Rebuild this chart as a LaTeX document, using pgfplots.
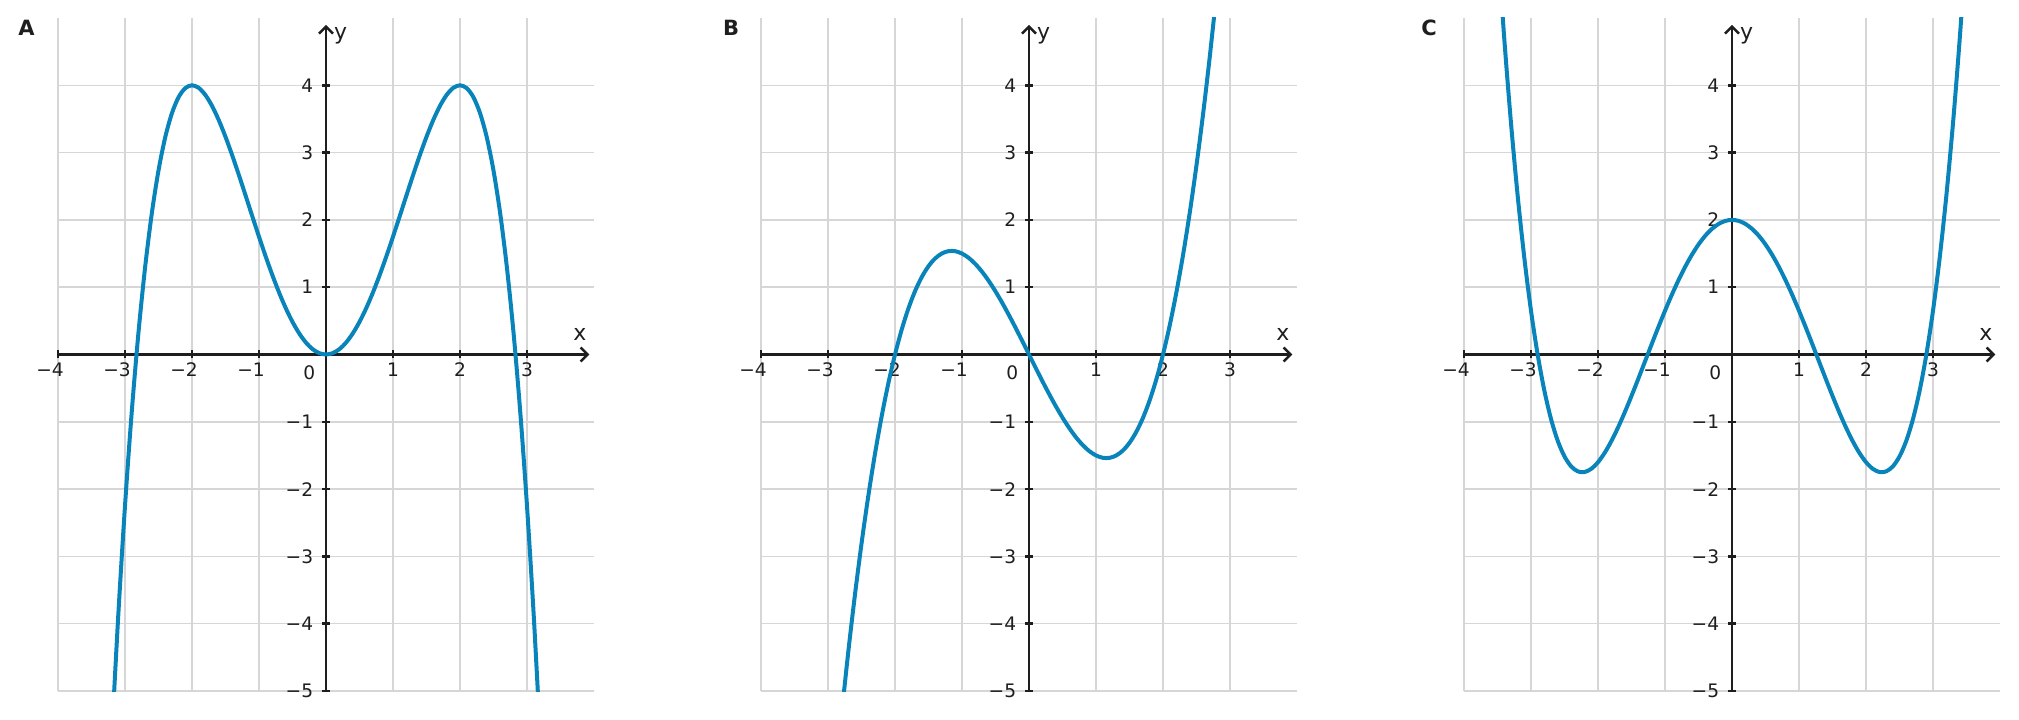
\documentclass[border=0pt]{standalone}
\usepackage{fontspec}
\setmainfont{DejaVu Sans}
\usepackage{pgfplots}
\pgfplotsset{compat=1.18}
\usetikzlibrary{arrows.meta}
\definecolor{curve}{RGB}{8,132,186}
\definecolor{axcol}{RGB}{30,30,30}
\definecolor{gridcol}{RGB}{214,214,214}
\newcommand{\tlfont}{\fontsize{9.3}{11}\selectfont}
\newcommand{\neglab}[1]{#1\kern8pt\null}
\pgfplotsset{
  panel/.style={
    width=268pt, height=336.5pt, scale only axis,
    xmin=-4, xmax=4, ymin=-5, ymax=5,
    axis lines=middle,
    x axis line style={draw=axcol, line width=1.25pt, -{Straight Barb[length=3.5pt,width=7pt]}, shorten >=2.3pt},
    y axis line style={draw=axcol, line width=1.25pt, -{Straight Barb[length=3.5pt,width=7pt]}, shorten >=3.4pt},
    xtick={-4,...,3}, ytick={-5,...,4},
    xticklabels={\neglab{−4},\neglab{−3},\neglab{−2},\neglab{−1},,1,2,3},
    yticklabels={−5,−4,−3,−2,−1,,1,2,3,4},
    tick align=center, major tick length=4pt,
    tick style={draw=axcol, line width=1.25pt},
    grid=major, grid style={draw=gridcol, line width=0.75pt},
    xticklabel style={font=\tlfont, text=axcol, inner sep=0pt, anchor=north, yshift=-2pt},
    yticklabel style={font=\tlfont, text=axcol, inner sep=0pt, anchor=east, xshift=-4.25pt},
  },
  fn/.style={draw=curve, line width=2pt, smooth, mark=none},
}
\begin{document}
\begin{tikzpicture}
\path[use as bounding box] (0,0) rectangle (1009.5pt,359.5pt);
% Panel A
\begin{axis}[panel, at={(29pt,14pt)}, anchor=south west]
\addplot[fn] coordinates {(-3.2,-5.7344) (-3.1,-3.8680) (-3.0,-2.25) (-2.9,-0.8620) (-2.8,0.3136) (-2.7,1.2940) (-2.6,2.0956) (-2.5,2.7344) (-2.4,3.2256) (-2.3,3.5840) (-2.2,3.8236) (-2.1,3.9580) (-2.0,4) (-1.9,3.9620) (-1.8,3.8556) (-1.7,3.6920) (-1.6,3.4816) (-1.5,3.2344) (-1.4,2.9596) (-1.3,2.6660) (-1.2,2.3616) (-1.1,2.0540) (-1.0,1.75) (-0.9,1.4560) (-0.8,1.1776) (-0.7,0.9200) (-0.6,0.6876) (-0.5,0.4844) (-0.4,0.3136) (-0.3,0.1780) (-0.2,0.0796) (-0.1,0.0200) (0,0) (0.1,0.0200) (0.2,0.0796) (0.3,0.1780) (0.4,0.3136) (0.5,0.4844) (0.6,0.6876) (0.7,0.9200) (0.8,1.1776) (0.9,1.4560) (1.0,1.75) (1.1,2.0540) (1.2,2.3616) (1.3,2.6660) (1.4,2.9596) (1.5,3.2344) (1.6,3.4816) (1.7,3.6920) (1.8,3.8556) (1.9,3.9620) (2.0,4) (2.1,3.9580) (2.2,3.8236) (2.3,3.5840) (2.4,3.2256) (2.5,2.7344) (2.6,2.0956) (2.7,1.2940) (2.8,0.3136) (2.9,-0.8620) (3.0,-2.25) (3.1,-3.8680) (3.2,-5.7344)};
\node[font=\fontsize{11}{13}\selectfont, text=axcol] at (axis cs:3.79,0.29) {x};
\node[font=\fontsize{11}{13}\selectfont, text=axcol] at (axis cs:0.22,4.73) {y};
\node[font=\tlfont, text=axcol, anchor=north, inner sep=0pt, yshift=-5.5pt] at (axis cs:-0.25,0) {0};
\end{axis}
% Panel B
\begin{axis}[panel, at={(380.5pt,14pt)}, anchor=south west]
\addplot[fn] coordinates {(-2.8,-5.376) (-2.7,-4.4415) (-2.6,-3.588) (-2.5,-2.8125) (-2.4,-2.112) (-2.3,-1.4835) (-2.2,-0.924) (-2.1,-0.4305) (-2.0,0) (-1.9,0.3705) (-1.8,0.684) (-1.7,0.9435) (-1.6,1.152) (-1.5,1.3125) (-1.4,1.428) (-1.3,1.5015) (-1.2,1.536) (-1.1,1.5345) (-1.0,1.5) (-0.9,1.4355) (-0.8,1.344) (-0.7,1.2285) (-0.6,1.092) (-0.5,0.9375) (-0.4,0.768) (-0.3,0.5865) (-0.2,0.396) (-0.1,0.1995) (0,0) (0.1,-0.1995) (0.2,-0.396) (0.3,-0.5865) (0.4,-0.768) (0.5,-0.9375) (0.6,-1.092) (0.7,-1.2285) (0.8,-1.344) (0.9,-1.4355) (1.0,-1.5) (1.1,-1.5345) (1.2,-1.536) (1.3,-1.5015) (1.4,-1.428) (1.5,-1.3125) (1.6,-1.152) (1.7,-0.9435) (1.8,-0.684) (1.9,-0.3705) (2.0,0) (2.1,0.4305) (2.2,0.924) (2.3,1.4835) (2.4,2.112) (2.5,2.8125) (2.6,3.588) (2.7,4.4415) (2.8,5.376)};
\node[font=\fontsize{11}{13}\selectfont, text=axcol] at (axis cs:3.79,0.29) {x};
\node[font=\fontsize{11}{13}\selectfont, text=axcol] at (axis cs:0.22,4.73) {y};
\node[font=\tlfont, text=axcol, anchor=north, inner sep=0pt, yshift=-5.5pt] at (axis cs:-0.25,0) {0};
\end{axis}
% Panel C
\begin{axis}[panel, at={(732pt,14pt)}, anchor=south west]
\addplot[fn] coordinates {(-3.5,6.1344) (-3.4,4.7050) (-3.3,3.4538) (-3.2,2.3686) (-3.1,1.4378) (-3.0,0.65) (-2.9,-0.0058) (-2.8,-0.5402) (-2.7,-0.9634) (-2.6,-1.2854) (-2.5,-1.5156) (-2.4,-1.6634) (-2.3,-1.7374) (-2.2,-1.7462) (-2.1,-1.6978) (-2.0,-1.6) (-1.9,-1.4602) (-1.8,-1.2854) (-1.7,-1.0822) (-1.6,-0.8570) (-1.5,-0.6156) (-1.4,-0.3638) (-1.3,-0.1066) (-1.2,0.1510) (-1.1,0.4046) (-1.0,0.65) (-0.9,0.8834) (-0.8,1.1014) (-0.7,1.3010) (-0.6,1.4794) (-0.5,1.6344) (-0.4,1.7638) (-0.3,1.8662) (-0.2,1.9402) (-0.1,1.9850) (0,2) (0.1,1.9850) (0.2,1.9402) (0.3,1.8662) (0.4,1.7638) (0.5,1.6344) (0.6,1.4794) (0.7,1.3010) (0.8,1.1014) (0.9,0.8834) (1.0,0.65) (1.1,0.4046) (1.2,0.1510) (1.3,-0.1066) (1.4,-0.3638) (1.5,-0.6156) (1.6,-0.8570) (1.7,-1.0822) (1.8,-1.2854) (1.9,-1.4602) (2.0,-1.6) (2.1,-1.6978) (2.2,-1.7462) (2.3,-1.7374) (2.4,-1.6634) (2.5,-1.5156) (2.6,-1.2854) (2.7,-0.9634) (2.8,-0.5402) (2.9,-0.0058) (3.0,0.65) (3.1,1.4378) (3.2,2.3686) (3.3,3.4538) (3.4,4.7050) (3.5,6.1344)};
\node[font=\fontsize{11}{13}\selectfont, text=axcol] at (axis cs:3.79,0.29) {x};
\node[font=\fontsize{11}{13}\selectfont, text=axcol] at (axis cs:0.22,4.73) {y};
\node[font=\tlfont, text=axcol, anchor=north, inner sep=0pt, yshift=-5.5pt] at (axis cs:-0.25,0) {0};
\end{axis}
\node[anchor=north west, inner sep=0pt, font=\bfseries\fontsize{10.5}{12}\selectfont, text=axcol] at (9pt,349.5pt) {A};
\node[anchor=north west, inner sep=0pt, font=\bfseries\fontsize{10.5}{12}\selectfont, text=axcol] at (361.3pt,349.5pt) {B};
\node[anchor=north west, inner sep=0pt, font=\bfseries\fontsize{10.5}{12}\selectfont, text=axcol] at (710.5pt,349.5pt) {C};
\end{tikzpicture}
\end{document}
